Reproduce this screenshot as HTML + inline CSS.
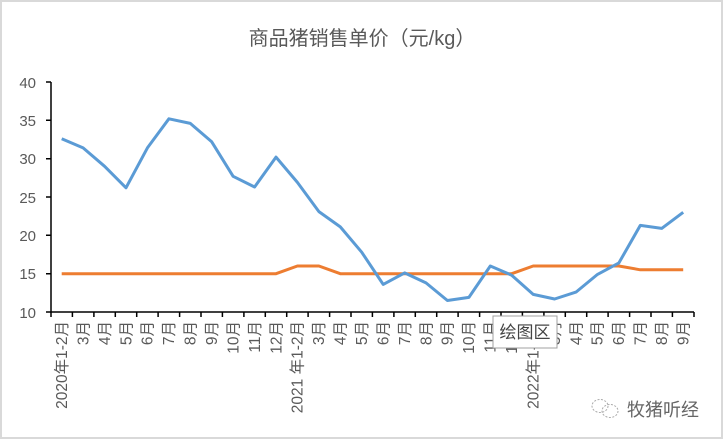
<!DOCTYPE html>
<html><head><meta charset="utf-8"><style>
body{margin:0;background:#fff}
svg{display:block;font-family:"Liberation Sans","Noto Sans CJK SC",sans-serif}
</style></head><body>
<svg width="723" height="439" viewBox="0 0 723 439">
<rect x="1" y="1" width="721" height="437" fill="#fff" stroke="#d9d9d9" stroke-width="2"/>
<text x="362" y="45" text-anchor="middle" font-size="20" fill="#595959">商品猪销售单价（元/kg）</text>
<g font-size="15" fill="#595959" text-anchor="end">
<text x="36" y="88">40</text><text x="36" y="126">35</text><text x="36" y="164">30</text><text x="36" y="203">25</text><text x="36" y="241">20</text><text x="36" y="279">15</text><text x="36" y="318">10</text>
</g>
<g stroke="#000" stroke-width="1.5" fill="none">
<path d="M51 82V312H694"/>
<path d="M46 82H51M46 120.3H51M46 158.7H51M46 197H51M46 235.3H51M46 273.7H51M46 312H51"/>
<path d="M51 312v5M72.4 312v5M93.9 312v5M115.3 312v5M136.7 312v5M158.1 312v5M179.6 312v5M201 312v5M222.4 312v5M243.9 312v5M265.3 312v5M286.7 312v5M308.1 312v5M329.6 312v5M351 312v5M372.4 312v5M393.9 312v5M415.3 312v5M436.7 312v5M458.1 312v5M479.6 312v5M501 312v5M522.4 312v5M543.9 312v5M565.3 312v5M586.7 312v5M608.1 312v5M629.6 312v5M651 312v5M672.4 312v5M694 312v5"/>
</g>
<g font-size="15.5" fill="#595959" text-anchor="end">
<text transform="translate(67,321) rotate(-90)">2020年1-2月</text>
<text transform="translate(88.5,321) rotate(-90)">3月</text>
<text transform="translate(110,321) rotate(-90)">4月</text>
<text transform="translate(131.5,321) rotate(-90)">5月</text>
<text transform="translate(152.5,321) rotate(-90)">6月</text>
<text transform="translate(174,321) rotate(-90)">7月</text>
<text transform="translate(195.5,321) rotate(-90)">8月</text>
<text transform="translate(217,321) rotate(-90)">9月</text>
<text transform="translate(238.5,321) rotate(-90)">10月</text>
<text transform="translate(260,321) rotate(-90)">11月</text>
<text transform="translate(281.5,321) rotate(-90)">12月</text>
<text transform="translate(302.5,321) rotate(-90)">2021 年1-2月</text>
<text transform="translate(324,321) rotate(-90)">3月</text>
<text transform="translate(345.5,321) rotate(-90)">4月</text>
<text transform="translate(367,321) rotate(-90)">5月</text>
<text transform="translate(388.5,321) rotate(-90)">6月</text>
<text transform="translate(410,321) rotate(-90)">7月</text>
<text transform="translate(431.5,321) rotate(-90)">8月</text>
<text transform="translate(452.5,321) rotate(-90)">9月</text>
<text transform="translate(474,321) rotate(-90)">10月</text>
<text transform="translate(495.5,321) rotate(-90)">11月</text>
<text transform="translate(517,321) rotate(-90)">12月</text>
<text transform="translate(538.5,321) rotate(-90)">2022年1-2月</text>
<text transform="translate(560,321) rotate(-90)">3月</text>
<text transform="translate(581.5,321) rotate(-90)">4月</text>
<text transform="translate(602.5,321) rotate(-90)">5月</text>
<text transform="translate(624,321) rotate(-90)">6月</text>
<text transform="translate(645.5,321) rotate(-90)">7月</text>
<text transform="translate(667,321) rotate(-90)">8月</text>
<text transform="translate(688.5,321) rotate(-90)">9月</text>
</g>
<polyline fill="none" stroke="#ed7d31" stroke-width="3" stroke-linejoin="round" points="61.7,273.7 83.1,273.7 104.6,273.7 126,273.7 147.4,273.7 168.9,273.7 190.3,273.7 211.7,273.7 233.1,273.7 254.6,273.7 276,273.7 297.4,266 318.9,266 340.3,273.7 361.7,273.7 383.2,273.7 404.6,273.7 426,273.7 447.4,273.7 468.9,273.7 490.3,273.7 511.7,273.7 533.2,266 554.6,266 576,266 597.5,266 618.9,266 640.3,269.8 661.7,269.8 683.2,269.8"/>
<polyline fill="none" stroke="#5b9bd5" stroke-width="3" stroke-linejoin="round" points="61.7,138.7 83.1,147.9 104.6,166.3 126,187.8 147.4,147.9 168.9,118.8 190.3,123.4 211.7,141.8 233.1,176.3 254.6,187 276,157.1 297.4,182.4 318.9,211.6 340.3,226.9 361.7,252.2 383.2,284.4 404.6,272.9 426,282.9 447.4,300.5 468.9,297.4 490.3,266 511.7,275.2 533.2,294.4 554.6,299 576,292.1 597.5,274.4 618.9,262.9 640.3,225.4 661.7,228.4 683.2,212.3"/>
<rect x="493" y="316" width="64" height="32" fill="#fff" stroke="#a0a0a0" stroke-width="1"/>
<text x="525" y="338" text-anchor="middle" font-size="17" fill="#444">绘图区</text>
<g fill="none" stroke="#aaa" stroke-width="1" stroke-dasharray="2 1.5">
<ellipse cx="600" cy="406" rx="8" ry="6.5"/>
<ellipse cx="610" cy="411" rx="8" ry="6.5"/>
</g>
<text x="627" y="416" font-size="18" fill="#666">牧猪听经</text>
</svg>
</body></html>
